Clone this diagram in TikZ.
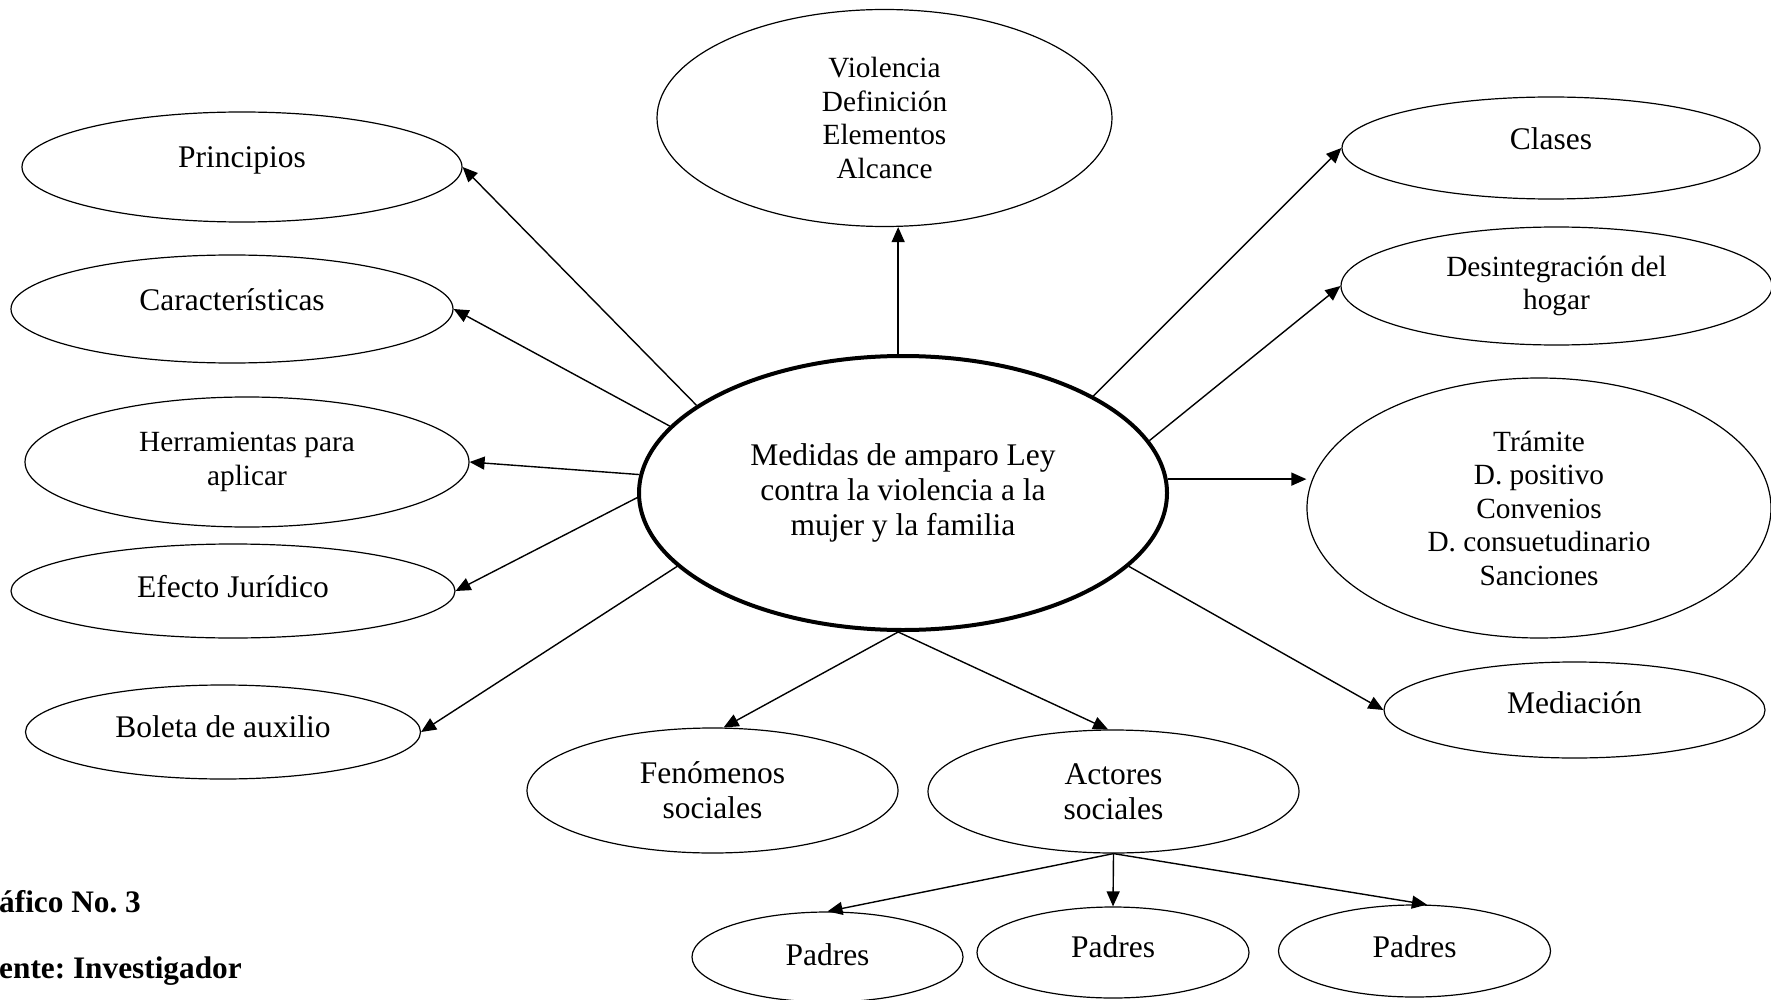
\documentclass[tikz,border=0pt]{standalone}
\usepackage{fontspec}
\setmainfont{Liberation Serif}
\usetikzlibrary{arrows.meta,shapes.geometric}
\frenchspacing
\newcommand{\mybig}{\fontsize{31.5pt}{35pt}\selectfont}
\newcommand{\mysmall}{\fontsize{29.3pt}{33.5pt}\selectfont}
\begin{document}
\begin{tikzpicture}[x=1pt,y=-1pt,
  ell/.style={ellipse,draw,line width=1.2pt,inner sep=0pt,align=center,font=\mybig},
  sml/.style={font=\mysmall},
  mainell/.style={ellipse,draw,line width=4pt,inner sep=0pt,align=center,font=\mybig},
  arr/.style={-{Triangle[length=15pt,width=13pt]},line width=1.4pt},
  captxt/.style={anchor=base west,inner sep=0pt,font=\bfseries\fontsize{31.3pt}{35pt}\selectfont}]
\useasboundingbox (0,0) rectangle (1771,1000);

% central node
\node[mainell,minimum width=528pt,minimum height=274pt] (c) at (903,493)
  {Medidas de amparo Ley\\contra la violencia a la\\mujer y la familia};

% left column
\node[ell,minimum width=440pt,minimum height=110pt,text height=20pt,text depth=18pt] (pr) at (242,167) {Principios};
\node[ell,minimum width=442pt,minimum height=108pt,text height=20pt,text depth=18pt] (car) at (232,309) {Características};
\node[ell,sml,minimum width=444pt,minimum height=130pt] (her) at (247,462) {Herramientas para\\aplicar};
\node[ell,minimum width=444pt,minimum height=94pt,text height=20pt,text depth=8pt] (ef) at (233,591) {Efecto Jurídico};
\node[ell,minimum width=395pt,minimum height=94pt,text height=20pt,text depth=10pt] (bo) at (223,732) {Boleta de auxilio};

% top
\node[ell,sml,minimum width=455pt,minimum height=217pt] (vi) at (884.5,118) {Violencia\\Definición\\Elementos\\Alcance};

% right column
\node[ell,minimum width=418pt,minimum height=102pt,text height=20pt,text depth=16pt] (cl) at (1551,148) {Clases};
\node[ell,sml,minimum width=431pt,minimum height=118pt] (de) at (1556.5,286) {Desintegración del\\hogar};
\node[ell,sml,minimum width=464pt,minimum height=260pt] (tr) at (1539,508) {Trámite\\D. positivo\\Convenios\\D. consuetudinario\\Sanciones};
\node[ell,minimum width=381pt,minimum height=96pt,text height=20pt,text depth=14pt] (me) at (1574.5,710) {Mediación};

% bottom
\node[ell,minimum width=371pt,minimum height=125pt] (fe) at (712.5,790.5) {Fenómenos\\sociales};
\node[ell,minimum width=371pt,minimum height=123pt] (ac) at (1113.5,791.5) {Actores\\sociales};
\node[ell,minimum width=271pt,minimum height=90pt,text height=20pt,text depth=4pt] (pa1) at (827.5,957) {Padres};
\node[ell,minimum width=272pt,minimum height=91pt,text height=20pt,text depth=10pt] (pa2) at (1113,952.5) {Padres};
\node[ell,minimum width=272pt,minimum height=92pt,text height=20pt,text depth=8pt] (pa3) at (1414.5,951) {Padres};

% captions
\node[captxt] (g1) at (-1,912) {áfico No. 3};
\node[captxt] (g2) at (-1,978) {ente: Investigador};

% connectors
\draw[arr] (c.157.4) -- (pr.east);
\draw[arr] (c.164.1) -- (car.east);
\draw[arr] (c.176.6) -- (her.east);
\draw[arr] (c.181.9) -- (ef.east);
\draw[arr] (c.198.8) -- (bo.east);
\draw[arr] (c.92) -- (c.92 |- vi.south);
\draw[arr] (c.27.6) -- (cl.west);
\draw[arr] (c.12.5) -- (de.west);
\draw[arr] (c.3.2) -- (c.3.2 -| tr.west);
\draw[arr] (c.342.5) -- (me.west);
\draw[arr] (c.268) -- (fe.80);
\draw[arr] (c.268) -- (ac.95);
\draw[arr] (ac.south) -- (pa1.north);
\draw[arr] (ac.south) -- (pa2.north);
\draw[arr] (ac.south) -- (pa3.75);
\end{tikzpicture}
\end{document}
